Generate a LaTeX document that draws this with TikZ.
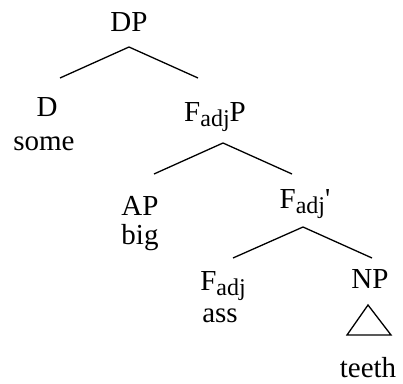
\documentclass[tikz,border=0pt]{standalone}
\usepackage{fontspec}
\setmainfont{Liberation Serif}
\usetikzlibrary{positioning}

\newcommand{\sub}[1]{\raisebox{-5pt}{\fontsize{24}{24}\selectfont #1}}

\begin{document}
\begin{tikzpicture}[x=1pt,y=1pt]
\tikzset{
  lbl/.style={inner sep=0pt, anchor=base, font=\fontsize{29}{33}\selectfont},
  branch/.style={line width=1.3pt, black}
}
\useasboundingbox (0,0) rectangle (403,383);

% Labels
\node[lbl] (dp) at (129,351) {DP};
\node[lbl] (d) at (47,266) {D};
\node[lbl] (some) at (44,232) {some};
\node[lbl] (fadjp) at (215,261) {F\sub{adj}P};
\node[lbl] (ap) at (140,168) {AP};
\node[lbl] (big) at (140,139) {big};
\node[lbl] (fadjbar) at (305,175) {F\sub{adj}\textquotesingle};
\node[lbl] (fadj) at (223,93) {F\sub{adj}};
\node[lbl] (ass) at (220,61) {ass};
\node[lbl] (np) at (370,95) {NP};
\node[lbl] (teeth) at (368,6) {teeth};

% Branches
\draw[branch] ([yshift=-15pt]dp.base) -- ([shift={(13pt,39pt)}]d.base);
\draw[branch] ([yshift=-15pt]dp.base) -- ([shift={(-17pt,44pt)}]fadjp.base);
\draw[branch] ([shift={(8pt,-21pt)}]fadjp.base) -- ([shift={(14pt,41pt)}]ap.base);
\draw[branch] ([shift={(8pt,-21pt)}]fadjp.base) -- ([shift={(-13pt,34pt)}]fadjbar.base);
\draw[branch] ([shift={(-2pt,-19pt)}]fadjbar.base) -- ([shift={(10pt,32pt)}]fadj.base);
\draw[branch] ([shift={(-2pt,-19pt)}]fadjbar.base) -- ([shift={(2pt,30pt)}]np.base);

% Triangle
\draw[branch] ([shift={(-2pt,-17pt)}]np.base) -- ([shift={(-23pt,-47pt)}]np.base)
  -- ([shift={(21pt,-47pt)}]np.base) -- cycle;
\end{tikzpicture}
\end{document}
